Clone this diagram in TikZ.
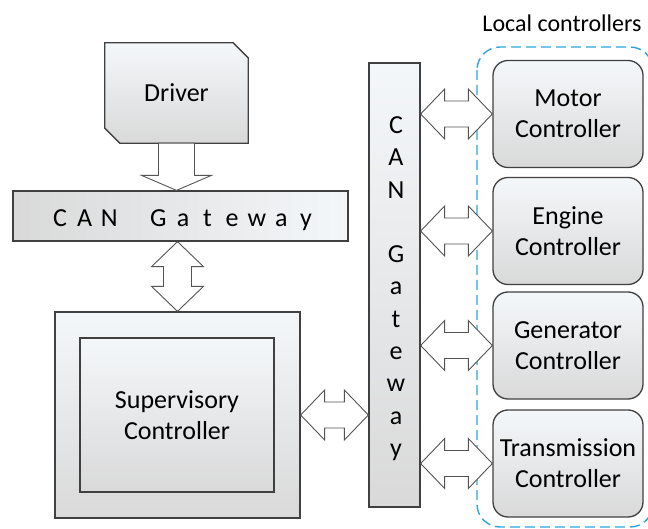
\documentclass[tikz,border=0pt]{standalone}
\usepackage{fontspec}
\setmainfont{Carlito}
\usetikzlibrary{calc,backgrounds}
\definecolor{boxtop}{HTML}{F4F7FA}
\definecolor{boxbot}{HTML}{D9D9D9}
\definecolor{edge}{HTML}{404040}
\definecolor{localblue}{HTML}{2BA6DD}
\tikzset{
  txt/.style={font=\fontsize{26}{31}\selectfont},
  blk/.style={draw=edge, line width=1.3pt, top color=boxtop, bottom color=boxbot, inner sep=0pt, align=center, txt},
  ctrlbox/.style={blk, rounded corners=15pt, minimum width=150pt, minimum height=107pt},
  fat/.style={draw=edge!90, line width=0.9pt, fill=white, line join=miter},
  hdbl/.style={to path={let \p1=(\tikztostart), \p2=(\tikztotarget) in
    (\p1) -- ++(24pt,25pt) -- ++(0,-12pt) -- ({\x2-24pt},{\y1+13pt}) -- ++(0,12pt) -- (\p2)
    -- ++(-24pt,-25pt) -- ++(0,12pt) -- ({\x1+24pt},{\y1-13pt}) -- ++(0,-12pt) -- cycle}},
  vdbl/.style={to path={let \p1=(\tikztostart), \p2=(\tikztotarget) in
    (\p1) -- ++(26pt,-25pt) -- ++(-12pt,0) -- ({\x1+14pt},{\y2+25pt}) -- ++(12pt,0) -- (\p2)
    -- ++(-26pt,25pt) -- ++(12pt,0) -- ({\x1-14pt},{\y1-25pt}) -- ++(-12pt,0) -- cycle}},
  vone/.style={to path={let \p1=(\tikztostart), \p2=(\tikztotarget) in
    ({\x1-18pt},\y1) -- ({\x1-18pt},{\y2+15pt}) -- ({\x1-35pt},{\y2+15pt}) -- (\p2)
    -- ({\x1+35pt},{\y2+15pt}) -- ({\x1+18pt},{\y2+15pt}) -- ({\x1+18pt},\y1) -- cycle}},
}
\begin{document}
\begin{tikzpicture}[x=1pt,y=-1pt]
 \useasboundingbox (0,0) rectangle (648,529);
 \clip (0,0) rectangle (648,529);

 \node[txt, inner sep=0pt, minimum width=143pt, minimum height=100pt] (driver) at (176.5,93) {Driver};
 \begin{scope}[on background layer]
  \path[draw=edge, line width=1.3pt, top color=boxtop, bottom color=boxbot]
   (driver.north west) -- ([xshift=-15pt]driver.north east) -- ([yshift=-15pt]driver.north east)
   -- (driver.south east) -- ([xshift=15pt]driver.south west) -- ([yshift=15pt]driver.south west) -- cycle;
 \end{scope}

 \node[blk, left color=boxbot, right color=boxtop, minimum width=335pt, minimum height=50pt] (gwh) at (180.5,216) {};
 \foreach \c/\k in {C/0,A/1,N/2,G/4,a/5,t/6,e/7,w/8,a/9,y/10}
  \node[txt, anchor=base, inner sep=0pt] (gwh-\k) at (60+24.6*\k,227) {\c};

 \node[blk, minimum width=245pt, minimum height=206pt] (sup) at (177.5,415) {};
 \node[blk, fill=white, minimum width=194pt, minimum height=154pt] (supin) at (177,415) {Supervisory\\Controller};

 \node[blk, minimum width=51pt, minimum height=444pt] (gwv) at (394.5,285) {};
 \foreach \c/\k in {C/0,A/1,N/2,G/4,a/5,t/6,e/7,w/8,a/9,y/10}
  \node[txt, anchor=base, inner sep=0pt] (gwv-\k) at (396,133.5+32.3*\k) {\c};

 \draw[localblue, line width=1.4pt, dash pattern=on 10pt off 5pt, rounded corners=23pt] (477,47) rectangle (653,527);
 \node[font=\fontsize{24}{28}\selectfont, inner sep=0pt] (lbl) at (562,23) {Local controllers};

 \node[ctrlbox] (motor) at (568,114) {Motor\\Controller};
 \node[ctrlbox] (engine) at (568,231) {Engine\\Controller};
 \node[ctrlbox] (gen) at (568,345.5) {Generator\\Controller};
 \node[ctrlbox] (trans) at (568,463.5) {Transmission\\Controller};

 \draw[fat] (driver.south) to[vone] (driver.south |- gwh.north);
 \draw[fat] (sup.north |- gwh.south) to[vdbl] (sup.north);
 \draw[fat] (sup.east) to[hdbl] (gwv.west |- sup.east);
 \foreach \ctl in {motor,engine,gen,trans}
  \draw[fat] (gwv.east |- \ctl.west) to[hdbl] (\ctl.west);
\end{tikzpicture}
\end{document}
